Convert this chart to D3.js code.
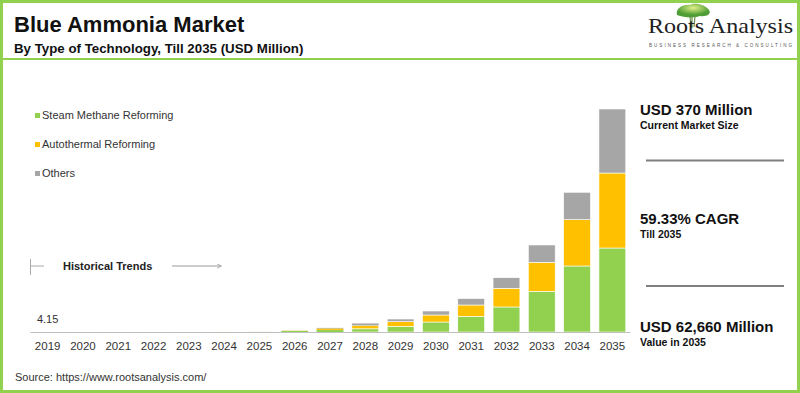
<!DOCTYPE html>
<head>
    <style>
        body { margin: 0; background: #fff; }
        svg { display: block; font-family: Arial, "Liberation Sans", sans-serif; }
    </style>
</head>
<body>
    <script src="https://cdn.jsdelivr.net/npm/d3@7"></script>
    <script>
        // values in USD million
        var years = ['2019', '2020', '2021', '2022', '2023', '2024', '2025', '2026', '2027',
                     '2028', '2029', '2030', '2031', '2032', '2033', '2034', '2035'];
        var steam = [2.5, 3.2, 4.2, 5.5, 7.5, 10, 14, 300, 600, 900, 1600, 2810, 4410, 7030, 11440, 18550, 23600];
        var auto = [1.1, 1.4, 1.8, 2.4, 3.2, 4.5, 6, 50, 400, 950, 1290, 1970, 3180, 5250, 8150, 13010, 21070];
        var others = [0.55, 0.7, 0.9, 1.2, 1.6, 2.2, 3, 20, 150, 550, 760, 1120, 1800, 2980, 4860, 7700, 17990];
        var seriesNames = ['Steam Methane Reforming', 'Autothermal Reforming', 'Others'];
        var colors = ['#92d050', '#ffc000', '#a6a6a6'];

        var W = 800, H = 393;
        var svg = d3.select('body').append('svg')
                    .attr('width', W)
                    .attr('height', H);
        var defs = svg.append('defs');

        // frame + header rule
        svg.append('rect').attr('x', 1.5).attr('y', 1.5)
           .attr('width', W - 3).attr('height', H - 3)
           .attr('fill', 'none').attr('stroke', '#92d050').attr('stroke-width', 3);
        svg.append('line').attr('x1', 3).attr('x2', W - 3).attr('y1', 59).attr('y2', 59)
           .attr('stroke', '#92d050').attr('stroke-width', 2);

        svg.append('text').attr('x', 14).attr('y', 32)
           .attr('font-size', 22).attr('font-weight', 'bold').attr('fill', '#111')
           .text('Blue Ammonia Market');
        svg.append('text').attr('x', 14).attr('y', 53)
           .attr('font-size', 13.3).attr('font-weight', 'bold').attr('fill', '#111')
           .text('By Type of Technology, Till 2035 (USD Million)');

        // logo
        var logo = svg.append('g');
        var grad = defs.append('radialGradient').attr('id', 'canopy')
                       .attr('cx', '50%').attr('cy', '30%');
        grad.append('stop').attr('offset', '0%').attr('stop-color', '#e4f08a');
        grad.append('stop').attr('offset', '100%').attr('stop-color', '#4f9e35');
        logo.append('path')
            .attr('d', 'M677,15 C675,8 684,4 690,5 C695,2 706,5 709,10 C712,14 706,17 700,16 C696,18 684,18 677,15 Z')
            .attr('fill', 'url(#canopy)');
        logo.append('path').attr('d', 'M690,16 L691,27 M695,16 L694,27 M692,17 L692,28')
            .attr('stroke', '#6a8f4a').attr('stroke-width', 1.2);
        logo.append('text').attr('x', 648).attr('y', 33)
            .attr('font-family', '"Liberation Serif", "DejaVu Serif", serif')
            .attr('font-size', 21).attr('fill', '#222')
            .attr('textLength', 145).attr('lengthAdjust', 'spacingAndGlyphs')
            .text('Roots Analysis');
        logo.append('text').attr('x', 649).attr('y', 47)
            .attr('font-size', 4.5).attr('fill', '#555')
            .attr('textLength', 143).attr('lengthAdjust', 'spacing')
            .text('BUSINESS RESEARCH & CONSULTING');

        // legend
        var legend = svg.selectAll('.legend')
                        .data(seriesNames)
                        .enter()
                        .append('g')
                        .attr('transform', (d, i) => 'translate(35,' + (119 + i * 29) + ')');
        legend.append('rect').attr('x', 0).attr('y', -6).attr('width', 5).attr('height', 5)
              .attr('fill', (d, i) => colors[i]);
        legend.append('text').attr('x', 7).attr('y', 0)
              .attr('font-size', 11).attr('fill', '#333')
              .text(d => d);

        // scales
        var x = d3.scaleBand().domain(years).range([30, 630])
                  .paddingInner(0.24).paddingOuter(0.12);
        var y = d3.scaleLinear().domain([0, 62660]).range([332, 109]);

        var table = years.map((yr, i) => ({ year: yr, s: steam[i], a: auto[i], o: others[i] }));
        var stacked = d3.stack().keys(['s', 'a', 'o'])(table);

        svg.append('g').selectAll('g')
           .data(stacked)
           .enter()
           .append('g')
           .attr('fill', (d, i) => colors[i])
           .selectAll('rect')
           .data(d => d)
           .enter()
           .append('rect')
           .attr('x', d => x(d.data.year))
           .attr('width', x.bandwidth())
           .attr('y', d => y(d[1]))
           .attr('height', d => y(d[0]) - y(d[1]))
           .attr('stroke', d => (y(d[0]) - y(d[1]) > 2.5 ? '#fff' : 'none'))
           .attr('stroke-width', 0.6);

        // x axis
        var axis = svg.append('g').attr('transform', 'translate(0,332)')
                      .call(d3.axisBottom(x).tickSize(0).tickPadding(10));
        axis.select('.domain').attr('stroke', '#bfbfbf').attr('stroke-width', 1.2);
        axis.selectAll('text').attr('font-size', 11.5).attr('fill', '#333')
            .attr('font-family', 'Arial, "Liberation Sans", sans-serif');

        // first value label
        svg.append('text').attr('x', x('2019') + x.bandwidth() / 2).attr('y', 323)
           .attr('text-anchor', 'middle').attr('font-size', 11).attr('fill', '#333')
           .text(d3.format('.2f')(steam[0] + auto[0] + others[0]));

        // historical trends marker
        defs.append('marker').attr('id', 'arr')
           .attr('viewBox', '0 0 10 10').attr('refX', 9).attr('refY', 5)
           .attr('markerWidth', 5).attr('markerHeight', 5).attr('orient', 'auto')
           .append('path').attr('d', 'M0,0 L10,5 L0,10').attr('fill', 'none')
           .attr('stroke', '#999').attr('stroke-width', 1.5);
        svg.append('line').attr('x1', 30.5).attr('x2', 30.5).attr('y1', 259).attr('y2', 275)
           .attr('stroke', '#aaa');
        svg.append('line').attr('x1', 30).attr('x2', 44).attr('y1', 266).attr('y2', 266)
           .attr('stroke', '#aaa');
        svg.append('text').attr('x', 63).attr('y', 270)
           .attr('font-size', 11).attr('font-weight', 'bold').attr('fill', '#222')
           .text('Historical Trends');
        svg.append('line').attr('x1', 172).attr('x2', 221).attr('y1', 266).attr('y2', 266)
           .attr('stroke', '#999').attr('marker-end', 'url(#arr)');

        // right side notes
        var notes = [
            { big: 'USD 370 Million', small: 'Current Market Size', y: 115 },
            { big: '59.33% CAGR', small: 'Till 2035', y: 224 },
            { big: 'USD 62,660 Million', small: 'Value in 2035', y: 332 }
        ];
        var note = svg.selectAll('.note').data(notes).enter().append('g');
        note.append('text').attr('x', 640).attr('y', d => d.y)
            .attr('font-size', 15).attr('font-weight', 'bold').attr('fill', '#111')
            .text(d => d.big);
        note.append('text').attr('x', 640).attr('y', d => d.y + 14)
            .attr('font-size', 10.5).attr('font-weight', 'bold').attr('fill', '#111')
            .text(d => d.small);
        [160.5, 286].forEach(yy => {
            svg.append('line').attr('x1', 646).attr('x2', 784).attr('y1', yy).attr('y2', yy)
               .attr('stroke', '#7f7f7f').attr('stroke-width', 2);
        });

        svg.append('text').attr('x', 15).attr('y', 381)
           .attr('font-size', 11).attr('fill', '#333')
           .text('Source: https://www.rootsanalysis.com/');
    </script>
</body>
